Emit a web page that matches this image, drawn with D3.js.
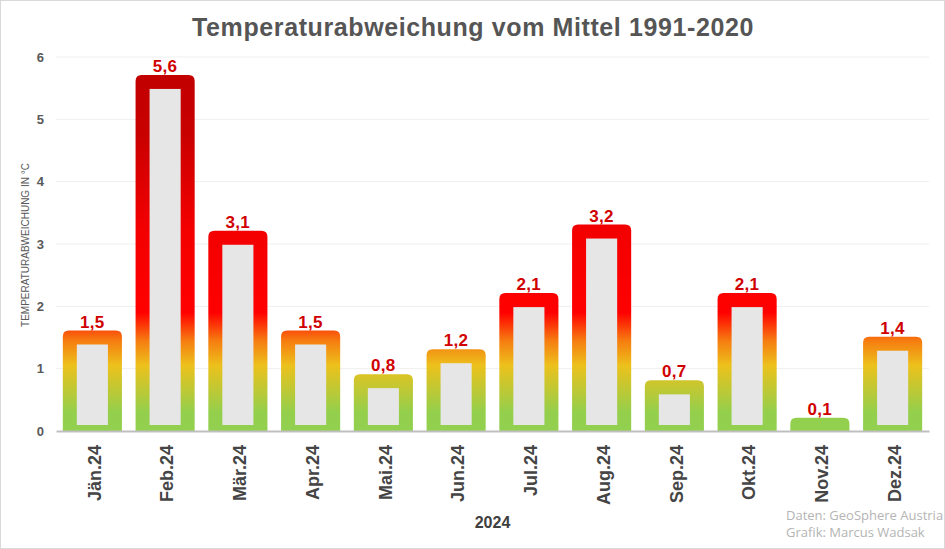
<!DOCTYPE html>
<html>
<head>
<meta charset="utf-8">
<script src="https://cdn.jsdelivr.net/npm/d3@7"></script>
<style>
  body { margin: 0; background: #fff; }
  svg { display: block; font-family: "Liberation Sans", Arial, sans-serif; }
</style>
</head>
<body>
<svg id="chart"></svg>
<script>
var months = ["Jän.24","Feb.24","Mär.24","Apr.24","Mai.24","Jun.24","Jul.24","Aug.24","Sep.24","Okt.24","Nov.24","Dez.24"]
var anomalies = [1.5, 5.6, 3.1, 1.5, 0.8, 1.2, 2.1, 3.2, 0.7, 2.1, 0.1, 1.4]
var yTicks = [0, 1, 2, 3, 4, 5, 6]

var svgw = 945
var svgh = 549
var margins = {left: 56, right: 16, top: 57, bottom: 118}

var svg = d3.select("#chart")
    .attr("width", svgw)
    .attr("height", svgh)

// frame
svg.append("rect")
    .attr("x", 0.5).attr("y", 0.5)
    .attr("width", svgw - 1).attr("height", svgh - 1)
    .attr("fill", "#fff")
    .attr("stroke", "#d9d9d9")

var xscale = d3.scaleBand()
    .domain(months)
    .range([margins.left, svgw - margins.right])
    .paddingInner(0.38)
    .paddingOuter(0.19)

var yscale = d3.scaleLinear()
    .domain([0, 6])
    .range([svgh - margins.bottom, margins.top])

// gradient in value space, shared by all bars
var defs = svg.append("defs")
var grad = defs.append("linearGradient")
    .attr("id", "heat")
    .attr("gradientUnits", "userSpaceOnUse")
    .attr("x1", 0).attr("x2", 0)
    .attr("y1", yscale(0)).attr("y2", yscale(6))
var stops = [
    [0, "#92d050"], [0.3, "#94cf4c"], [1.05, "#ecc11c"], [1.45, "#f67c10"],
    [1.9, "#ff0000"], [3.3, "#f20000"], [4.8, "#c80000"], [6, "#c00000"]
]
grad.selectAll("stop")
    .data(stops)
    .enter()
    .append("stop")
    .attr("offset", function(d){return d[0] / 6})
    .attr("stop-color", function(d){return d[1]})

// gridlines
svg.append("g")
    .selectAll("line")
    .data(yTicks.slice(1))
    .enter()
    .append("line")
    .attr("x1", margins.left)
    .attr("x2", svgw - margins.right)
    .attr("y1", function(d){return yscale(d)})
    .attr("y2", function(d){return yscale(d)})
    .attr("stroke", "#efefef")

// y axis
var yAxis = d3.axisLeft(yscale).tickValues(yTicks).tickFormat(d3.format("d")).tickSize(0).tickPadding(12)
var yg = svg.append("g")
    .attr("transform", "translate(" + (margins.left) + ",0)")
    .call(yAxis)
yg.select(".domain").remove()
yg.selectAll("text")
    .attr("fill", "#595959")
    .style("font-size", "13px")
    .style("font-weight", "bold")
    .style("font-family", "Liberation Sans, Arial, sans-serif")

var topRounded = function(x, y, w, h, r)
{
    return "M" + x + "," + (y + h) +
        "V" + (y + r) +
        "Q" + x + "," + y + " " + (x + r) + "," + y +
        "H" + (x + w - r) +
        "Q" + (x + w) + "," + y + " " + (x + w) + "," + (y + r) +
        "V" + (y + h) + "Z"
}

var border = 7
var bars = svg.append("g")
    .selectAll("g")
    .data(anomalies)
    .enter()
    .append("g")

bars.append("path")
    .attr("d", function(d, i)
    {
        var x = xscale(months[i]) - border
        var y = yscale(d) - border
        return topRounded(x, y, xscale.bandwidth() + 2 * border, yscale(0) - y, 6)
    })
    .attr("fill", "url(#heat)")

bars.append("rect")
    .attr("x", function(d, i){return xscale(months[i]) + border})
    .attr("y", function(d){return yscale(d) + border})
    .attr("width", xscale.bandwidth() - 2 * border)
    .attr("height", function(d){return Math.max(0, yscale(0) - 6 - (yscale(d) + border))})
    .attr("fill", "#e6e6e6")

bars.append("text")
    .text(function(d){return d.toFixed(1).replace(".", ",")})
    .attr("x", function(d, i){return xscale(months[i]) + xscale.bandwidth() / 2})
    .attr("y", function(d){return yscale(d) - border - 3})
    .attr("text-anchor", "middle")
    .attr("fill", "#d00000")
    .style("font-size", "17px")
    .style("font-weight", "bold")
    .style("letter-spacing", "0.3px")

// baseline + x labels
var xAxis = d3.axisBottom(xscale).tickSize(0).tickPadding(0)
var xg = svg.append("g")
    .attr("transform", "translate(0," + yscale(0) + ")")
    .call(xAxis)
xg.select(".domain")
    .attr("stroke", "#bfbfbf")
    .attr("stroke-width", 2)
xg.selectAll("text")
    .attr("transform", "translate(2,14) rotate(-90)")
    .attr("x", 0).attr("y", 0)
    .attr("dy", "0.35em")
    .attr("text-anchor", "end")
    .attr("fill", "#454545")
    .style("font-size", "18px")
    .style("font-weight", "bold")
    .style("font-family", "Liberation Sans, Arial, sans-serif")

// labels
svg.append("text")
    .text("Temperaturabweichung vom Mittel 1991-2020")
    .attr("x", 473)
    .attr("y", 36)
    .attr("text-anchor", "middle")
    .attr("fill", "#555555")
    .style("font-size", "25px")
    .style("font-weight", "bold")
    .style("letter-spacing", "0.6px")

svg.append("text")
    .text("TEMPERATURABWEICHUNG IN °C")
    .attr("transform", "translate(29," + 245 + ") rotate(-90)")
    .attr("text-anchor", "middle")
    .attr("fill", "#595959")
    .style("font-size", "10px")

svg.append("text")
    .text("2024")
    .attr("x", (margins.left + svgw - margins.right) / 2)
    .attr("y", 528)
    .attr("text-anchor", "middle")
    .attr("fill", "#404040")
    .style("font-size", "16px")
    .style("font-weight", "bold")

var credits = ["Daten: GeoSphere Austria", "Grafik: Marcus Wadsak"]
svg.append("g")
    .selectAll("text")
    .data(credits)
    .enter()
    .append("text")
    .text(function(d){return d})
    .attr("x", 786)
    .attr("y", function(d, i){return 520 + i * 17})
    .attr("fill", "#b4b4b4")
    .style("font-size", "13px")
    .style("font-family", "Open Sans, Noto Sans, sans-serif")
</script>
</body>
</html>
